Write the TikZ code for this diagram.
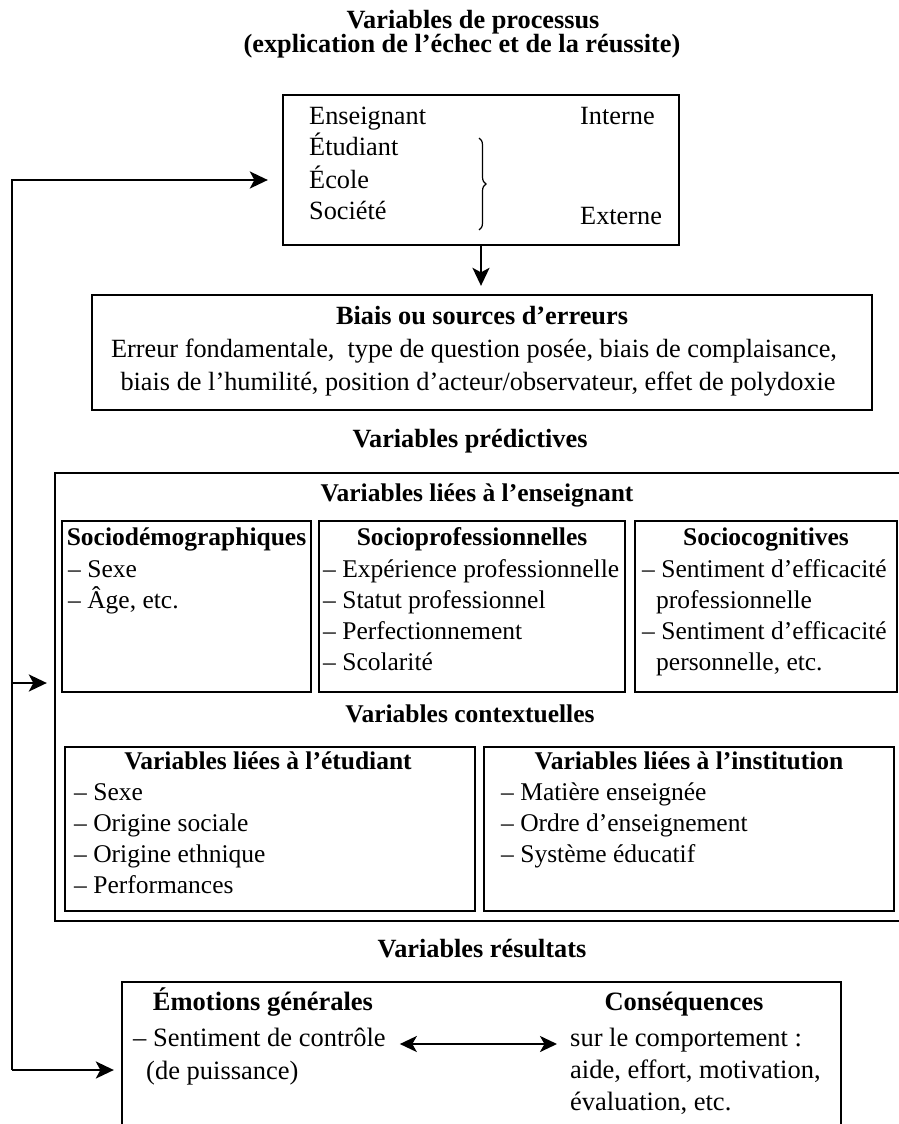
\documentclass[tikz,border=0pt]{standalone}
\usepackage{fontspec}
\setmainfont{Liberation Serif}
\usetikzlibrary{arrows.meta,decorations.pathreplacing,calc}
\newcommand\topsz{\fontsize{26.3}{31}\selectfont}
\newcommand\midsz{\fontsize{25.5}{31}\selectfont}
\newcommand\botsz{\fontsize{26.5}{31}\selectfont}
\begin{document}
\begin{tikzpicture}[x=1pt,y=-1pt,
  box/.style={draw, line width=2.3pt, inner sep=0pt},
  txt/.style={inner sep=0pt, anchor=mid west, font=\topsz},
  hd/.style={inner sep=0pt, anchor=mid, font=\topsz\bfseries},
  mtxt/.style={txt, font=\midsz},
  mhd/.style={hd, font=\midsz\bfseries},
  btxt/.style={txt, font=\botsz},
  bhd/.style={hd, font=\botsz\bfseries},
  tip/.style={-{Stealth[length=18pt,width=17pt,inset=4.5pt]}},
  conn/.style={line width=2.4pt, tip}]
\useasboundingbox (0,0) rectangle (899,1124);
\clip (0,0) rectangle (899,1124);

% title
\node[hd] (t1) at (473,26) {Variables de processus};
\node[hd] (t2) at (462,50) {(explication de l’échec et de la réussite)};

% process box
\node[box, minimum width=396pt, minimum height=150pt] (procbox) at (481,170) {};
\node[txt] (p1) at (309,122) {Enseignant};
\node[txt] (p2) at (309,153) {Étudiant};
\node[txt] (p3) at (309,186) {École};
\node[txt] (p4) at (309,217) {Société};
\node[txt] (pint) at (580,122) {Interne};
\node[txt] (pext) at (580,222) {Externe};
\coordinate (brt) at (479,138);
\coordinate (brb) at (479,230);
\draw[line width=1.2pt, decorate, decoration={brace, amplitude=7pt}] (brt) -- (brb);

% biais box
\node[box, minimum width=780pt, minimum height=115pt] (biais) at (482,352.5) {};
\node[hd] (bh) at (482,322) {Biais ou sources d’erreurs};
\node[txt, anchor=mid] (bl1) at (474,355) {Erreur fondamentale,\ \ type de question posée, biais de complaisance,};
\node[txt, anchor=mid] (bl2) at (478,388) {biais de l’humilité, position d’acteur/observateur, effet de polydoxie};

\draw[conn, shorten >=8pt] (procbox.south) -- (procbox.south |- biais.north);

% predictive variables
\node[hd] (vp) at (470,445) {Variables prédictives};
\node[box, minimum width=860pt, minimum height=448pt] (bigbox) at (485,697) {};
\node[mhd] (ens) at (477,499) {Variables liées à l’enseignant};

\node[box, minimum width=249pt, minimum height=171pt] (b1) at (186.5,606.5) {};
\node[box, minimum width=306pt, minimum height=171pt] (b2) at (472,606.5) {};
\node[box, minimum width=262pt, minimum height=171pt] (b3) at (766,606.5) {};

\node[mhd] (h1) at (186.5,543) {Sociodémographiques};
\node[mtxt] (i11) at (68,575) {– Sexe};
\node[mtxt] (i12) at (68,606) {– Âge, etc.};

\node[mhd] (h2) at (472,543) {Socioprofessionnelles};
\node[mtxt] (i21) at (323,575) {– Expérience professionnelle};
\node[mtxt] (i22) at (323,606) {– Statut professionnel};
\node[mtxt] (i23) at (323,637) {– Perfectionnement};
\node[mtxt] (i24) at (323,668) {– Scolarité};

\node[mhd] (h3) at (766,543) {Sociocognitives};
\node[mtxt] (i31) at (642,575) {– Sentiment d’efficacité};
\node[mtxt] (i32) at (656,606) {professionnelle};
\node[mtxt] (i33) at (642,637) {– Sentiment d’efficacité};
\node[mtxt] (i34) at (656,668) {personnelle, etc.};

\node[mhd] (ctx) at (470,720) {Variables contextuelles};

\node[box, minimum width=410pt, minimum height=164pt] (b4) at (270,829) {};
\node[box, minimum width=410pt, minimum height=164pt] (b5) at (689,829) {};

\node[mhd] (h4) at (268,767) {Variables liées à l’étudiant};
\node[mtxt] (i41) at (74,798) {– Sexe};
\node[mtxt] (i42) at (74,829) {– Origine sociale};
\node[mtxt] (i43) at (74,860) {– Origine ethnique};
\node[mtxt] (i44) at (74,891) {– Performances};

\node[mhd] (h5) at (689,767) {Variables liées à l’institution};
\node[mtxt] (i51) at (501,798) {– Matière enseignée};
\node[mtxt] (i52) at (501,829) {– Ordre d’enseignement};
\node[mtxt] (i53) at (501,860) {– Système éducatif};

% results
\node[hd] (vr) at (482,955) {Variables résultats};
\node[box, minimum width=719pt, minimum height=158pt] (resbox) at (481.5,1061) {};
\node[bhd] (emo) at (263,1008) {Émotions générales};
\node[bhd] (cons) at (684,1008) {Conséquences};
\node[btxt] (e1) at (133,1044) {– Sentiment de contrôle};
\node[btxt] (e2) at (146,1077) {(de puissance)};
\node[btxt] (c1) at (570,1044) {sur le comportement :};
\node[btxt] (c2) at (570,1076) {aide, effort, motivation,};
\node[btxt] (c3) at (570,1108) {évaluation, etc.};
\draw[line width=2.4pt, {Stealth[length=17pt,width=16pt,inset=4.5pt]}-{Stealth[length=17pt,width=16pt,inset=4.5pt]}, shorten <=14pt, shorten >=13pt] (e1.mid east) -- (c1.mid west);

% feedback loop
\coordinate (loopTop) at (12,180);
\coordinate (loopMid) at (12,683);
\coordinate (loopBot) at (12,1070);
\draw[conn, line join=miter, shorten >=14pt] (loopBot) -- (loopTop) -- (loopTop -| procbox.west);
\draw[conn, shorten >=7pt] (loopMid) -- (loopMid -| bigbox.west);
\draw[conn, shorten >=7pt] (loopBot) -- (loopBot -| resbox.west);
\end{tikzpicture}
\end{document}
